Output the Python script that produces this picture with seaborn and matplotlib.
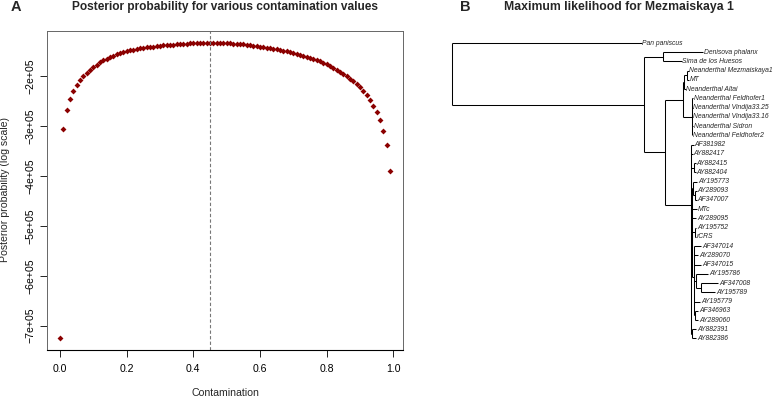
import matplotlib
matplotlib.use("Agg")
import matplotlib.pyplot as plt
import numpy as np
import pandas as pd
import seaborn as sns


# panel A: log posterior for each contamination fraction (grid 0.00 .. 0.99)
CONTAMINATION = np.round(np.arange(100) * 0.01, 2)
LOG_POSTERIOR = [
    -725400, -305300, -266600, -244600, -229900, -217300, -207900, -199900, -192600, -186600,
    -181300, -176600, -171900, -167900, -164600, -161300, -158600, -155900, -153300, -151300,
    -149300, -147800, -146400, -145100, -143900, -142800, -141800, -140900, -140100, -139300,
    -138600, -137900, -137200, -136600, -136000, -135500, -135000, -134500, -134000, -133600,
    -133200, -132900, -132600, -132400, -132200, -132100, -132100, -132200, -132400, -132700,
    -133100, -133500, -134000, -134500, -135100, -135800, -136500, -137300, -138200, -139100,
    -140100, -141100, -142200, -143300, -144400, -145600, -146900, -148200, -149600, -151100,
    -152700, -154400, -156200, -158100, -160100, -162200, -164500, -166900, -169500, -172300,
    -175300, -178900, -182600, -186900, -191300, -195600, -199900, -204600, -209900, -215300,
    -221900, -229900, -237900, -247300, -258600, -271300, -288000, -309300, -338600, -389900,
]
MLE_CONTAMINATION = 0.45
X_TICKS = [0.0, 0.2, 0.4, 0.6, 0.8, 1.0]
X_TICK_LABELS = ["0.0", "0.2", "0.4", "0.6", "0.8", "1.0"]
Y_TICKS = [-200000, -300000, -400000, -500000, -600000, -700000]
Y_TICK_LABELS = ["\u22122e+05", "\u22123e+05", "\u22124e+05", "\u22125e+05", "\u22126e+05", "\u22127e+05"]

# panel B: maximum likelihood tree (newick, branch lengths in subst/site)
TREE_NEWICK = (
    "(Pan paniscus:0.1897,"
    "((Denisova phalanx:0.0400,Sima de los Huesos:0.0184):0.0193,"
    "((((Neanderthal Mezmaiskaya1:0.0020,MT:0.0020):0.0025,Neanderthal Altai:0.0015):0.0010,"
    "(Neanderthal Feldhofer1:0.0015,Neanderthal Vindija33.25:0.0010,Neanderthal Vindija33.16:0.0005,"
    "Neanderthal Sidron:0.0012,Neanderthal Feldhofer2:0.0005):0.0085):0.0180,"
    "(AF381982:0.0030,AY882417:0.0020,(AY882415:0.0020,AY882404:0.0020):0.0030,"
    "((AY195773:0.0040,(AY289093:0.0012,AF347007:0.0012):0.0020):0.0012,MTc:0.0045,AY289095:0.0040,"
    "(AY195752:0.0012,rCRS:0.0012):0.0030,"
    "(AF347014:0.0070,AY289070:0.0040,AF347015:0.0070,"
    "(AY195786:0.0120,(AF347008:0.0170,AY195789:0.0140):0.0050):0.0020,"
    "AY195779:0.0060,(AF346963:0.0030,AY289060:0.0030):0.0012):0.0020):0.0012,"
    "(AY882391:0.0040,AY882386:0.0040):0.0012):0.0260):0.0210):0.1920);"
)

W, H = 777, 398


def parse_newick(s):
    pos = 0

    def node():
        nonlocal pos
        children = []
        if s[pos] == "(":
            pos += 1
            while True:
                children.append(node())
                if s[pos] == ",":
                    pos += 1
                    continue
                pos += 1  # ')'
                break
        start = pos
        while pos < len(s) and s[pos] not in ",();":
            pos += 1
        name, _, length = s[start:pos].partition(":")
        return {"name": name.strip(), "len": float(length) if length else 0.0, "children": children}

    return node()


def layout(tree):
    tips = []

    def walk(n, x):
        n["x"] = x + n["len"]
        if not n["children"]:
            n["y"] = len(tips)
            tips.append(n)
        else:
            for c in n["children"]:
                walk(c, n["x"])
            n["y"] = np.mean([c["y"] for c in n["children"]])

    walk(tree, 0.0)
    return tips


def draw_tree(ax, n):
    if not n["children"]:
        return
    ys = [c["y"] for c in n["children"]]
    ax.plot([n["x"], n["x"]], [min(ys), max(ys)], color="black", lw=0.75, solid_capstyle="butt")
    for c in n["children"]:
        ax.plot([n["x"], c["x"]], [c["y"], c["y"]], color="black", lw=0.75, solid_capstyle="butt")
        draw_tree(ax, c)


sns.set_theme(style="ticks")
plt.rcParams["font.family"] = ["Liberation Sans", "DejaVu Sans"]

fig = plt.figure(figsize=(W / 100, H / 100), dpi=100)

# ---- panel A
ax = fig.add_axes([46.7 / W, 1 - 350 / H, 356.6 / W, 319 / H])
df = pd.DataFrame({"contamination": CONTAMINATION, "logpost": LOG_POSTERIOR})
sns.scatterplot(data=df, x="contamination", y="logpost", marker="D", s=9,
                color="#8B0000", linewidth=0, ax=ax)
ax.axvline(MLE_CONTAMINATION, color="#777777", lw=0.8, ls=(0, (3, 2)))
ax.set_xlim(-0.0396, 1.0296)
ax.set_ylim(-749100, -108900)
ax.set_xticks(X_TICKS)
ax.set_xticklabels(X_TICK_LABELS)
ax.set_yticks(Y_TICKS)
ax.set_yticklabels(Y_TICK_LABELS, rotation=90, va="center")
ax.tick_params(length=5, width=0.6, color="black", labelsize=7.6, labelcolor="black")
ax.tick_params(axis="x", pad=5)
ax.tick_params(axis="y", pad=3)
ax.set_xlabel("")
ax.set_ylabel("")
for side in ["left", "top", "right"]:
    ax.spines[side].set_color("#666666")
    ax.spines[side].set_linewidth(0.7)
ax.spines["bottom"].set_color("black")
ax.spines["bottom"].set_linewidth(0.8)

fig.text(225 / W, 1 - 393 / H, "Contamination", ha="center", va="center", fontsize=7.6)
fig.text(5.5 / W, 1 - 190 / H, "Posterior probability (log scale)", ha="center", va="center",
         rotation=90, fontsize=7.6)
fig.text(225 / W, 1 - 7 / H, "Posterior probability for various contamination values",
         ha="center", va="center", fontsize=8.6, fontweight="bold")
fig.text(15.8 / W, 1 - 7 / H, "A", ha="center", va="center", fontsize=10.5, fontweight="bold")

# ---- panel B
tree = parse_newick(TREE_NEWICK)
tips = layout(tree)
tx = fig.add_axes([447 / W, 1 - 348 / H, 330 / W, 314 / H])
tx.set_axis_off()
draw_tree(tx, tree)
for t in tips:
    tx.text(t["x"] + 0.0008, t["y"], t["name"], fontsize=4.85, style="italic",
            ha="left", va="center", clip_on=False)
tx.set_xlim(-0.005, 0.325)
tx.set_ylim(33.03, -0.975)

fig.text(619 / W, 1 - 7 / H, "Maximum likelihood for Mezmaiskaya 1",
         ha="center", va="center", fontsize=8.8, fontweight="bold")
fig.text(465 / W, 1 - 7 / H, "B", ha="center", va="center", fontsize=10.5, fontweight="bold")

fig.savefig("out.png", dpi=100)
